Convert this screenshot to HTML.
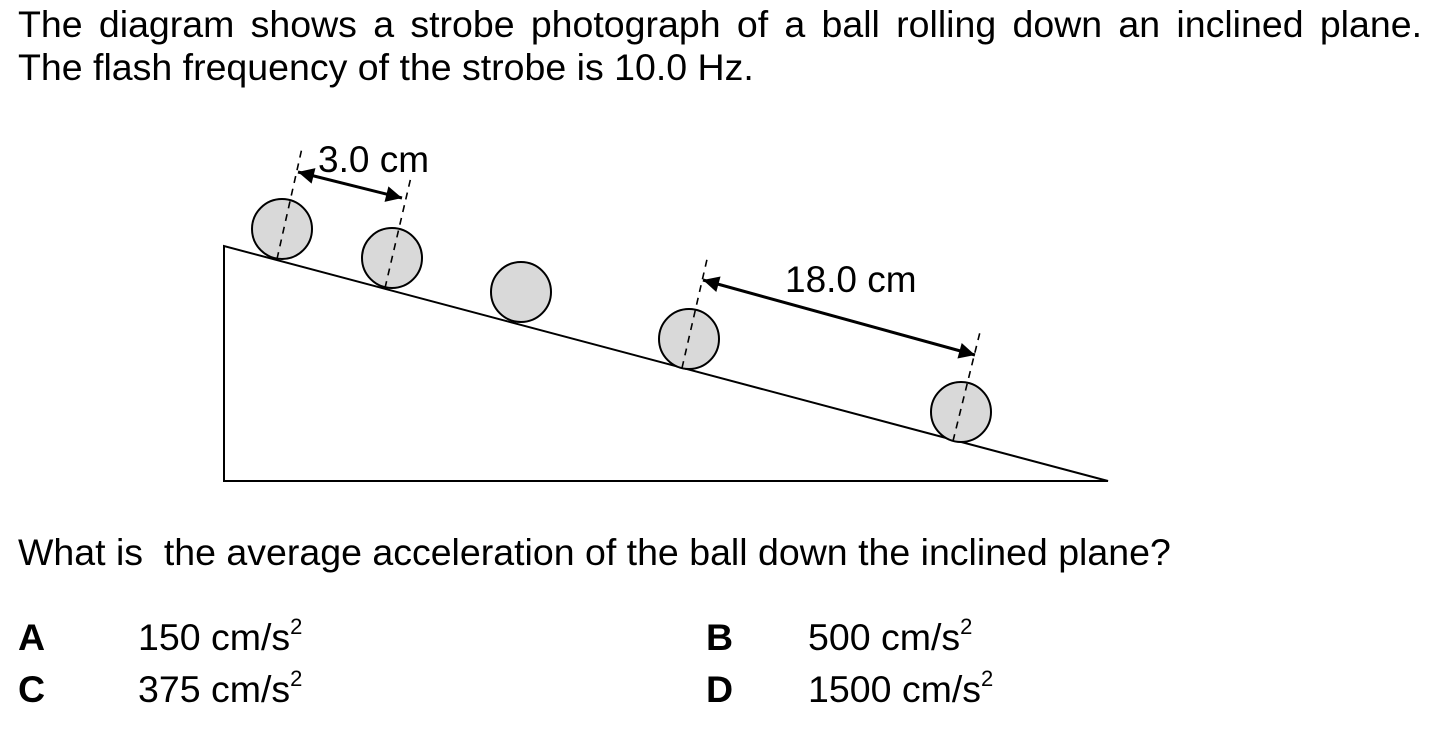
<!DOCTYPE html>
<html><head><style>
body{margin:0;width:1442px;height:730px;background:#fff;font-family:"Liberation Sans",sans-serif;color:#000;position:relative;overflow:hidden}
.t{position:absolute;font-size:37.5px;white-space:nowrap;line-height:1}
b{font-weight:bold}
sup{font-size:22px;vertical-align:0;position:relative;top:-16px}
</style></head><body>
<div class="t" style="left:18px;top:6px;width:1404px;text-align:justify;text-align-last:justify;white-space:normal">The diagram shows a strobe photograph of a ball rolling down an inclined plane.</div>
<div class="t" style="left:18px;top:49px">The flash frequency of the strobe is 10.0 Hz.</div>
<svg style="position:absolute;left:0;top:0" width="1442" height="730">
<defs>
<marker id="h" viewBox="0 0 10 10" markerWidth="18" markerHeight="16" refX="10" refY="5" orient="auto-start-reverse" markerUnits="userSpaceOnUse"><path d="M0,0 L10,5 L0,10 Z" fill="#000"/></marker></defs>
<path d="M224,481 L224,246 L1108,481 Z" fill="none" stroke="#000" stroke-width="2"/>
<g fill="#d9d9d9" stroke="#000" stroke-width="2">
<circle cx="282" cy="229" r="30"/><circle cx="392" cy="258" r="30"/><circle cx="521" cy="292" r="30"/><circle cx="689" cy="339" r="30"/><circle cx="961" cy="412" r="30"/></g>
<g stroke="#000" stroke-width="1.6" stroke-dasharray="7,6">
<line x1="277" y1="259" x2="302" y2="148"/><line x1="385" y1="288" x2="411" y2="177"/><line x1="682" y1="368" x2="708" y2="255"/><line x1="953" y1="441" x2="980" y2="332"/></g>
<g stroke="#000" stroke-width="3">
<line x1="298" y1="172" x2="402" y2="198" marker-start="url(#h)" marker-end="url(#h)"/>
<line x1="703" y1="280" x2="975" y2="355" marker-start="url(#h)" marker-end="url(#h)"/></g>
<text x="318" y="172" font-family="Liberation Sans" font-size="37">3.0 cm</text>
<text x="785" y="292" font-family="Liberation Sans" font-size="37">18.0 cm</text>
</svg>
<div class="t" style="left:18px;top:534px">What is&nbsp; the average acceleration of the ball down the inclined plane?</div>
<div class="t" style="left:18px;top:619px"><b>A</b></div>
<div class="t" style="left:138px;top:619px">150 cm/s<sup>2</sup></div>
<div class="t" style="left:706px;top:619px"><b>B</b></div>
<div class="t" style="left:808px;top:619px">500 cm/s<sup>2</sup></div>
<div class="t" style="left:18px;top:671px"><b>C</b></div>
<div class="t" style="left:138px;top:671px">375 cm/s<sup>2</sup></div>
<div class="t" style="left:706px;top:671px"><b>D</b></div>
<div class="t" style="left:808px;top:671px">1500 cm/s<sup>2</sup></div>
</body></html>
